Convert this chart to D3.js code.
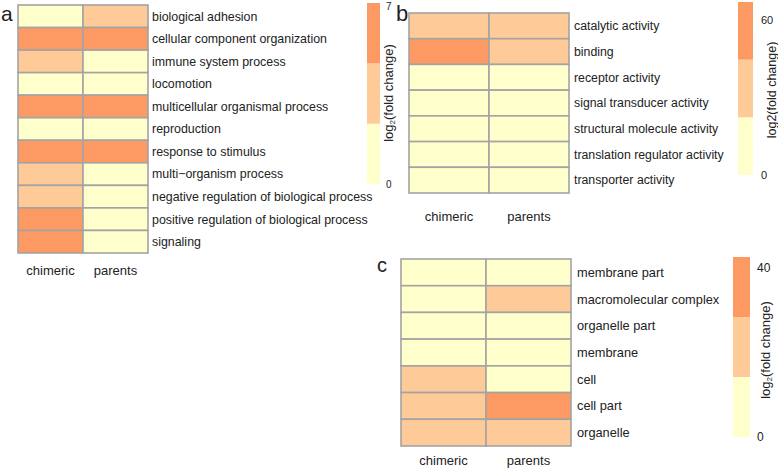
<!DOCTYPE html>
<html>
<head>
<meta charset="utf-8">
<script src="https://cdn.jsdelivr.net/npm/d3@7"></script>
<style>
  html, body { margin: 0; padding: 0; background: #fff; }
  svg { display: block; }
  text { font-family: "Liberation Sans", Arial, sans-serif; fill: #222; }
</style>
</head>
<body>
<svg id="chart" width="778" height="468"></svg>
<script>
// ---------- DATA ----------
const samples = ["chimeric", "parents"];

const categoriesA = [
  "biological adhesion", "cellular component organization", "immune system process",
  "locomotion", "multicellular organismal process", "reproduction", "response to stimulus",
  "multi\u2212organism process", "negative regulation of biological process",
  "positive regulation of biological process", "signaling"
];
const chimericA = [1.2, 5.9, 3.4, 0.9, 6.1, 1.0, 6.0, 3.3, 3.5, 5.6, 5.8];
const parentsA  = [3.6, 5.8, 1.1, 0.8, 5.9, 0.9, 5.7, 1.0, 1.2, 1.0, 1.1];
const legendDomainA = [0, 7];
const legendTicksA = [0, 7];

const categoriesB = [
  "catalytic activity", "binding", "receptor activity", "signal transducer activity",
  "structural molecule activity", "translation regulator activity", "transporter activity"
];
const chimericB = [32, 55, 4, 6, 8, 2, 9];
const parentsB  = [30, 36, 3, 5, 7, 2, 8];
const legendDomainB = [0, 67];
const legendTicksB = [0, 60];

const categoriesC = [
  "membrane part", "macromolecular complex", "organelle part", "membrane",
  "cell", "cell part", "organelle"
];
const chimericC = [8, 6, 9, 7, 22, 21, 23];
const parentsC  = [9, 20, 10, 8, 10, 36, 22];
const legendDomainC = [0, 42.6];
const legendTicksC = [0, 40];

const colorBands = ["#FFFFCC", "#FECB98", "#FD9A63"];

// ---------- DRAW ----------
const svg = d3.select("#chart");

function panel(opt) {
  const g = svg.append("g");
  const rows = opt.categories.map((c, i) => ({ cat: c, vals: [opt.chim[i], opt.par[i]] }));
  const x = d3.scaleBand().domain(samples).range([opt.x0, opt.x1]);
  const y = d3.scaleBand().domain(opt.categories).range([opt.y0, opt.y1]);
  const color = d3.scaleQuantize().domain(opt.legendDomain).range(colorBands);

  const cells = [];
  rows.forEach(r => samples.forEach((s, j) => cells.push({ cat: r.cat, s, v: r.vals[j] })));

  g.selectAll("rect.cell").data(cells).join("rect")
    .attr("class", "cell")
    .attr("x", d => x(d.s)).attr("y", d => y(d.cat))
    .attr("width", x.bandwidth()).attr("height", y.bandwidth())
    .attr("fill", d => color(d.v))
    .attr("stroke", "#A3A3A3").attr("stroke-width", 1.6);

  // row labels
  g.selectAll("text.row").data(opt.categories).join("text")
    .attr("class", "row")
    .attr("x", opt.x1 + opt.labelGap)
    .attr("y", d => y(d) + y.bandwidth() / 2)
    .attr("dy", "0.35em")
    .style("font-size", opt.rowSize + "px")
    .text(d => d);

  // column labels
  g.selectAll("text.col").data(samples).join("text")
    .attr("class", "col")
    .attr("x", d => x(d) + x.bandwidth() / 2)
    .attr("y", opt.colLabelY)
    .attr("dy", "0.35em")
    .attr("text-anchor", "middle")
    .style("font-size", "13px")
    .text(d => d);

  // panel letter
  g.append("text")
    .attr("x", opt.letterX).attr("y", opt.letterY)
    .style("font-size", opt.letterSize + "px")
    .text(opt.letter);

  // legend
  const ly = d3.scaleLinear().domain(opt.legendDomain).range([opt.legY1, opt.legY0]);
  const [lo, hi] = opt.legendDomain;
  const thresholds = [lo, ...color.thresholds(), hi];
  const bands = d3.range(3).map(i => ({ a: thresholds[i], b: thresholds[i + 1], c: colorBands[i] }));
  g.selectAll("rect.leg").data(bands).join("rect")
    .attr("class", "leg")
    .attr("x", opt.legX).attr("width", opt.legW)
    .attr("y", d => ly(d.b)).attr("height", d => ly(d.a) - ly(d.b))
    .attr("fill", d => d.c);

  g.selectAll("text.tick").data(opt.legendTicks).join("text")
    .attr("class", "tick")
    .attr("x", opt.legX + opt.legW + opt.tickGap)
    .attr("y", d => ly(d) + (d === hi ? 3 : 0))
    .attr("dy", "0.35em")
    .style("font-size", opt.tickSize + "px")
    .text(d => d);

  const t = g.append("text")
    .attr("transform", `translate(${opt.titleX},${opt.titleY}) rotate(-90)`)
    .attr("text-anchor", "middle")
    .attr("dy", "0.35em")
    .style("font-size", opt.titleSize + "px");
  if (opt.subscript) {
    t.append("tspan").text("log");
    t.append("tspan").text("2").style("font-size", "8px").attr("dy", "2");
    t.append("tspan").text("(fold change)").attr("dy", "-2");
  } else {
    t.text("log2(fold change)");
  }
}

panel({
  categories: categoriesA, chim: chimericA, par: parentsA,
  x0: 18, x1: 148, y0: 5, y1: 253, labelGap: 4, colLabelY: 270, rowSize: 12.4,
  letter: "a", letterX: 1, letterY: 21, letterSize: 21,
  legendDomain: legendDomainA, legendTicks: legendTicksA,
  legX: 367, legW: 13, legY0: 3, legY1: 184, tickGap: 6, tickSize: 10,
  titleX: 388, titleY: 93, subscript: true, titleSize: 13
});

panel({
  categories: categoriesB, chim: chimericB, par: parentsB,
  x0: 409, x1: 569, y0: 13, y1: 193, labelGap: 5, colLabelY: 216, rowSize: 12.3,
  letter: "b", letterX: 396, letterY: 21, letterSize: 22,
  legendDomain: legendDomainB, legendTicks: legendTicksB,
  legX: 738, legW: 15, legY0: 2, legY1: 175, tickGap: 8, tickSize: 11,
  titleX: 772, titleY: 90, subscript: false, titleSize: 12.5
});

panel({
  categories: categoriesC, chim: chimericC, par: parentsC,
  x0: 401, x1: 571, y0: 259, y1: 446, labelGap: 6, colLabelY: 460, rowSize: 12.8,
  letter: "c", letterX: 377, letterY: 272, letterSize: 20,
  legendDomain: legendDomainC, legendTicks: legendTicksC,
  legX: 733, legW: 17, legY0: 257, legY1: 437, tickGap: 7, tickSize: 12,
  titleX: 765, titleY: 350, subscript: true, titleSize: 13
});
</script>
</body>
</html>
